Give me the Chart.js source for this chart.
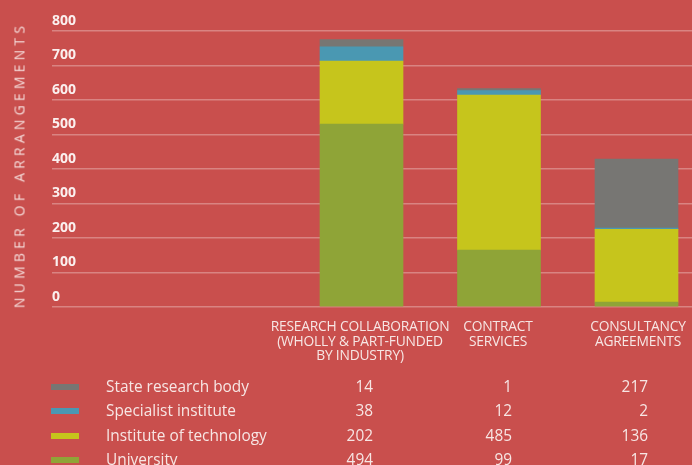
<!DOCTYPE html>
<html>
<head>
<meta charset="utf-8">
<script src="https://cdn.jsdelivr.net/npm/chart.js@4.4.1/dist/chart.umd.min.js"></script>
<style>
  html, body { margin: 0; padding: 0; background: #c94f4d; overflow: hidden; }
  #wrap { position: relative; width: 692px; height: 465px; font-family: "Open Sans", sans-serif; color: #f7e6e4; }
  #myChart { position: absolute; left: 0; top: 0; }
  .ytitle { position: absolute; left: 19px; top: 165px; transform: translate(-50%, -50%) rotate(-90deg);
            white-space: nowrap; font-size: 14px; letter-spacing: 4.2px; color: #f4dbd9; }
  .head { position: absolute; top: 319px; font-size: 13.8px; line-height: 14.5px; text-align: center;
          transform: translateX(-50%); white-space: nowrap; letter-spacing: -0.2px; }
  .row { position: absolute; left: 0; width: 692px; height: 24px; font-size: 15.4px; line-height: 24px; }
  .swatch { position: absolute; left: 51px; top: 9px; width: 28px; height: 6px; }
  .label { position: absolute; left: 106px; top: 0; white-space: nowrap; }
  .num { position: absolute; top: 0; text-align: right; width: 60px; }
</style>
</head>
<body>
<div id="wrap">
  <canvas id="myChart" width="692" height="465"></canvas>
  <div class="ytitle">NUMBER OF ARRANGEMENTS</div>
</div>
<script>
// categories (column headers of the table)
const categories = [
  ["RESEARCH COLLABORATION", "(WHOLLY & PART-FUNDED", "BY INDUSTRY)"],
  ["CONTRACT", "SERVICES"],
  ["CONSULTANCY", "AGREEMENTS"]
];
const seriesNames = ["State research body", "Specialist institute", "Institute of technology", "University"];

// numbers printed in the table
const tableState = [14, 1, 217];
const tableSpecialist = [38, 12, 2];
const tableIoT = [202, 485, 136];
const tableUniversity = [494, 99, 17];

// bar heights as drawn in the picture (they don't quite follow the table)
const barState = [21, 6, 200];
const barSpecialist = [41, 13, 4];
const barIoT = [183, 449, 211];
const barUniversity = [530, 165, 14];

const yTicks = [0, 100, 200, 300, 400, 500, 600, 700, 800];

const colors = ["#777673", "#4a98b2", "#c6c51c", "#8fa437"];

// table below chart
const wrap = document.getElementById("wrap");
const headCenters = [360, 498, 638];
categories.forEach(function (lines, i) {
  const d = document.createElement("div");
  d.className = "head";
  d.style.left = headCenters[i] + "px";
  d.innerHTML = lines.join("<br>");
  wrap.appendChild(d);
});

const tableRows = [tableState, tableSpecialist, tableIoT, tableUniversity];
const numRights = [373, 512, 648];
seriesNames.forEach(function (name, r) {
  const row = document.createElement("div");
  row.className = "row";
  row.style.top = (375 + r * 24.4) + "px";
  let html = '<div class="swatch" style="background:' + colors[r] + '"></div>';
  html += '<div class="label">' + name + '</div>';
  tableRows[r].forEach(function (v, c) {
    html += '<div class="num" style="left:' + (numRights[c] - 60) + 'px">' + v + '</div>';
  });
  row.innerHTML = html;
  wrap.appendChild(row);
});

// stacked bars: university at the bottom, state research body on top
const barSets = [barUniversity, barIoT, barSpecialist, barState];
const barNames = [seriesNames[3], seriesNames[2], seriesNames[1], seriesNames[0]];
const barColors = [colors[3], colors[2], colors[1], colors[0]];

const ctx = document.getElementById("myChart").getContext("2d");
new Chart(ctx, {
  type: "bar",
  data: {
    datasets: barSets.map(function (vals, k) {
      return {
        label: barNames[k],
        data: vals.map(function (v, i) { return { x: i, y: v }; }),
        backgroundColor: barColors[k],
        borderWidth: 0,
        barThickness: 83
      };
    })
  },
  options: {
    responsive: false,
    animation: false,
    layout: { padding: { left: 52, right: 0, top: 31, bottom: 158 } },
    plugins: { legend: { display: false }, tooltip: { enabled: false } },
    scales: {
      x: {
        type: "linear",
        stacked: true,
        offset: false,
        min: -2.2509,
        max: 2.4036,
        display: false
      },
      y: {
        stacked: true,
        min: 0,
        max: 800,
        afterBuildTicks: function (axis) { axis.ticks = yTicks.map(function (v) { return { value: v }; }); },
        border: { display: false },
        grid: { color: "rgba(255,255,255,0.3)", lineWidth: 1.5, drawTicks: false },
        ticks: {
          mirror: true,
          padding: 0,
          labelOffset: -10,
          color: "#fbf0ef",
          font: { family: "Open Sans", size: 14, weight: "bold" }
        }
      }
    }
  }
});
</script>
</body>
</html>
